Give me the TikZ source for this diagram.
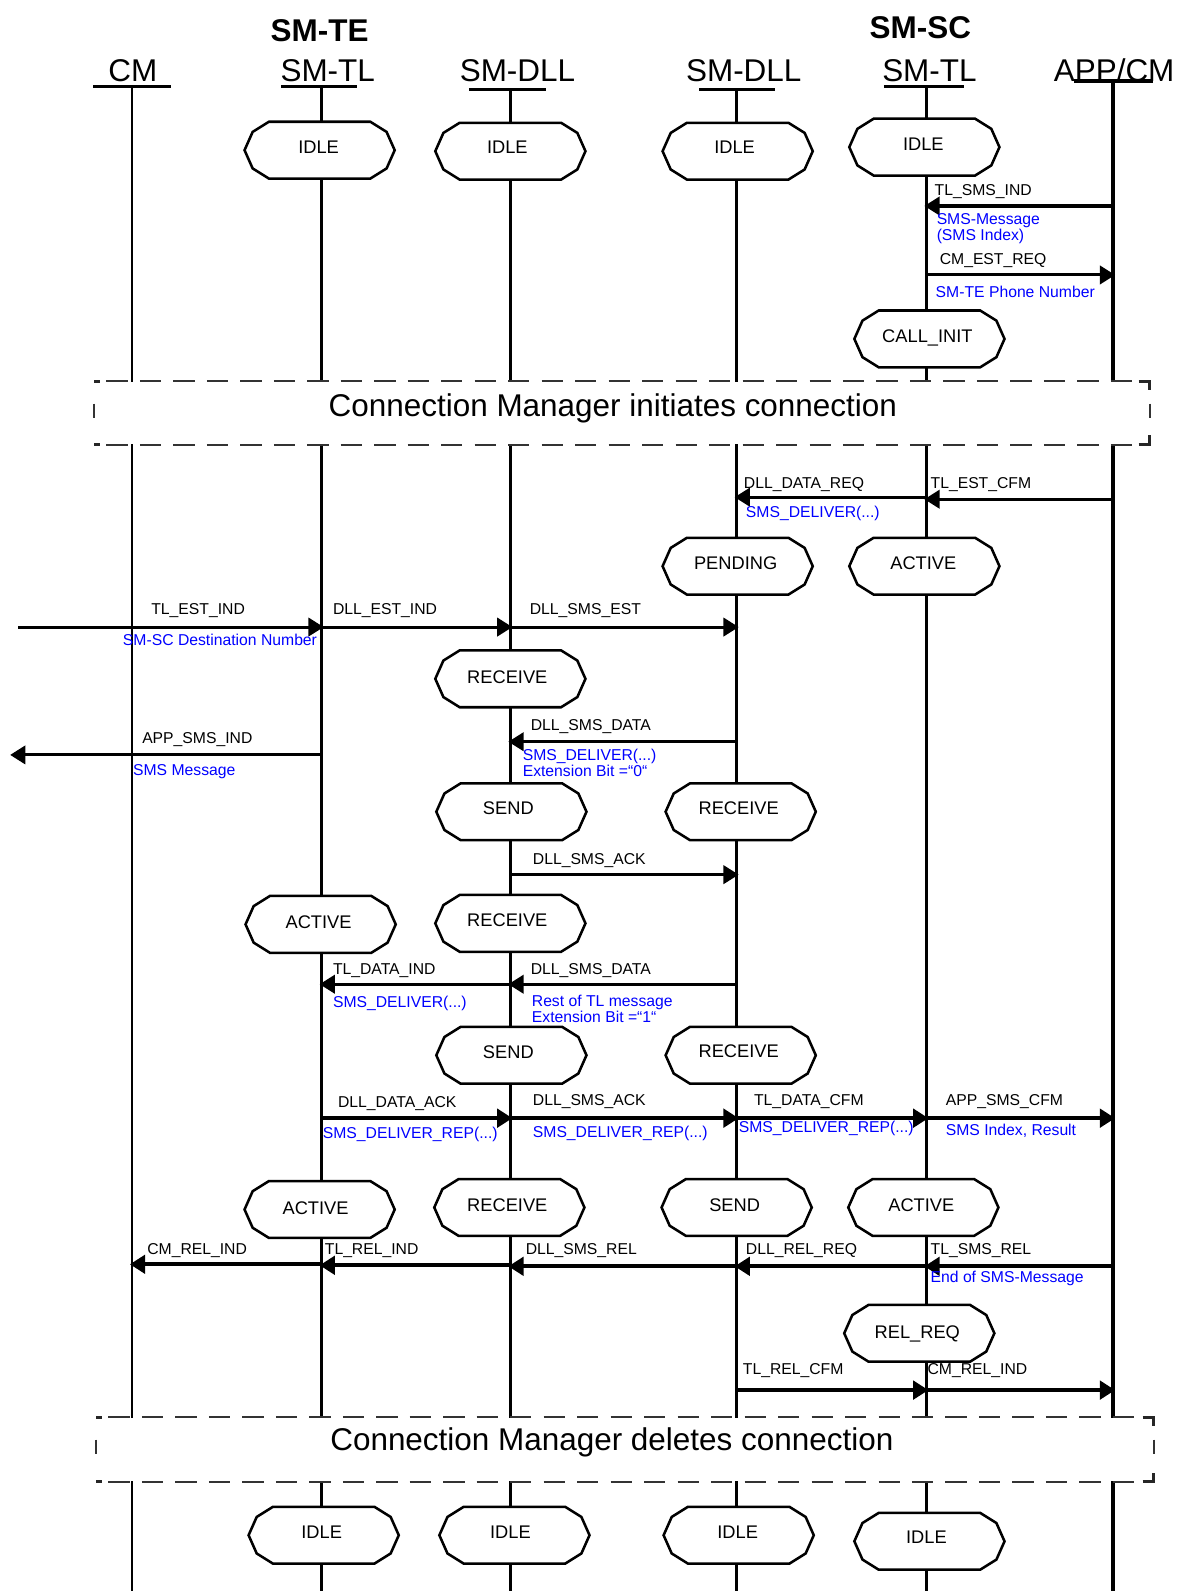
\documentclass[tikz,border=0pt]{standalone}
\usepackage{fontspec}
\setmainfont{Liberation Sans}
\usetikzlibrary{arrows.meta}
\tikzset{
 life/.style={line width=3pt},
 bar/.style={line width=3pt},
 head/.style={font=\fontsize{31}{36}\selectfont, anchor=base, inner sep=0pt},
 grp/.style={font=\bfseries\fontsize{31}{36}\selectfont, anchor=base, inner sep=0pt},
 stline/.style={line width=2.5pt, fill=white, line join=miter},
 sttext/.style={font=\fontsize{18}{21}\selectfont, anchor=base, inner sep=0pt, yshift=-6.5pt},
 msg/.style={line width=3pt, -{Triangle[length=15pt,width=18pt]}, shorten >=-2pt},
 msgb/.style={msg, line width=3.8pt},
 lab/.style={font=\fontsize{15.5}{17}\selectfont, anchor=base west, inner sep=0pt, yshift=-5.5pt},
 blab/.style={lab, text=blue},
 cmbox/.style={draw=none, fill=white, inner sep=0pt},
 cmtext/.style={font=\fontsize{31}{36}\selectfont, anchor=base, inner sep=0pt, yshift=-11pt},
 dashl/.style={line width=1.8pt, black!80, dash pattern=on 21pt off 12pt},
 tick/.style={line width=1.8pt, black!80},
 cornr/.style={line width=3pt, black!85},
}
\newcommand\stbox[6]{%
 \draw[stline, shift={(#2,#3)}] (-50,-28) -- (50,-28) -- (66,-18) -- (74,0) -- (66,18) -- (50,28) -- (-50,28) -- (-66,18) -- (-74,0) -- (-66,-18) -- cycle;
 \node[sttext] (#1) at (#4,#5) {#6};}
\newcommand\mlab[4]{\node[#1] (#2) at (#3) {#4};}
\newcommand\dbox[2]{%
 \draw[dashl] ([xshift=12pt]#1.north west) -- ([xshift=-14pt]#1.north east);
 \draw[dashl] ([xshift=12pt]#1.south west) -- ([xshift=-14pt]#1.south east);
 \draw[cornr] (#1.north west) -- ++(6,0);
 \draw[cornr] (#1.south west) -- ++(6,0);
 \draw[cornr] ([xshift=-11pt]#1.north east) -- (#1.north east) -- ++(0,9);
 \draw[cornr] ([xshift=-11pt]#1.south east) -- (#1.south east) -- ++(0,-9);
 \draw[tick] ([yshift=-22pt]#1.north west) -- ++(0,14);
 \draw[tick] ([yshift=-22pt]#1.north east) -- ++(0,14);}
\begin{document}
\begin{tikzpicture}[x=1pt,y=-1pt]
\useasboundingbox (0,0) rectangle (1159,1568);
% lifeline ends
\coordinate (tCM) at (130,85);   \coordinate (bCM) at (130,1568);
\coordinate (tTL1) at (317,85);  \coordinate (bTL1) at (317,1568);
\coordinate (tDLL1) at (503,88); \coordinate (bDLL1) at (503,1568);
\coordinate (tDLL2) at (726,88); \coordinate (bDLL2) at (726,1568);
\coordinate (tTL2) at (913,85);  \coordinate (bTL2) at (913,1568);
\coordinate (tAPP) at (1097,80); \coordinate (bAPP) at (1097,1568);
\coordinate (xL1) at (18,618);
\coordinate (xL2) at (12,744);
% headers
\node[grp] (gTE) at (315,41) {SM-TE};
\node[grp] (gSC) at (907,38) {SM-SC};
\node[head] (hCM) at (131,80) {CM};
\node[head] (hTL1) at (323,80) {SM-TL};
\node[head] (hDLL1) at (510,80) {SM-DLL};
\node[head] (hDLL2) at (733,80) {SM-DLL};
\node[head] (hTL2) at (916,80) {SM-TL};
\node[head] (hAPP) at (1098,80) {APP/CM};
\draw[bar] (92,85) -- (169,85);
\draw[bar] (277,85) -- (352,85);
\draw[bar, line width=3.5pt] (462,88) -- (538,88);
\draw[bar, line width=3.5pt] (689,88) -- (764,88);
\draw[bar] (871,85) -- (950,85);
\draw[bar, line width=3.5pt] (1058,80) -- (1136,80);
% lifelines
\draw[life, line width=2.5pt] (tCM) -- (bCM);
\draw[life] (tTL1) -- (bTL1);
\draw[life] (tDLL1) -- (bDLL1);
\draw[life] (tDLL2) -- (bDLL2);
\draw[life] (tTL2) -- (bTL2);
\draw[life, line width=3.5pt] (tAPP) -- (bAPP);
% states
\stbox{s1}{315}{148}{314}{145}{IDLE}
\stbox{s2}{503}{149}{500}{145}{IDLE}
\stbox{s3}{727}{149}{724}{145}{IDLE}
\stbox{s4}{911}{145}{910}{142}{IDLE}
\stbox{s5}{916}{334}{914}{331}{CALL\_INIT}
\stbox{s6}{727}{558}{725}{555}{PENDING}
\stbox{s7}{911}{558}{910}{555}{ACTIVE}
\stbox{s8}{503}{669}{500}{667}{RECEIVE}
\stbox{s9}{504}{800}{501}{796}{SEND}
\stbox{s10}{730}{800}{728}{796}{RECEIVE}
\stbox{s11}{316}{911}{314}{909}{ACTIVE}
\stbox{s12}{503}{910}{500}{907}{RECEIVE}
\stbox{s13}{504}{1040}{501}{1037}{SEND}
\stbox{s14}{730}{1040}{728}{1036}{RECEIVE}
\stbox{s15}{315}{1192}{311}{1190}{ACTIVE}
\stbox{s16}{502}{1190}{500}{1187}{RECEIVE}
\stbox{s17}{726}{1190}{724}{1187}{SEND}
\stbox{s18}{910}{1190}{908}{1187}{ACTIVE}
\stbox{s19}{906}{1314}{904}{1313}{REL\_REQ}
\stbox{s20}{319}{1513}{317}{1510}{IDLE}
\stbox{s21}{507}{1513}{503}{1510}{IDLE}
\stbox{s22}{728}{1513}{727}{1510}{IDLE}
\stbox{s23}{916}{1519}{913}{1515}{IDLE}
% connection manager boxes
\node[cmbox, minimum width=1040pt, minimum height=62pt] (box1) at (613,407) {};
\dbox{box1}{}
\node[cmtext] (cm1) at (604,399) {Connection Manager initiates connection};
\node[cmbox, minimum width=1042pt, minimum height=63pt] (box2) at (616,1428.5) {};
\dbox{box2}{}
\node[cmtext] (cm2) at (603,1419) {Connection Manager deletes connection};
% messages
\draw[msg] (tAPP |- 0,203) -- (tTL2 |- 0,203);
\mlab{lab}{m1}{921,187}{TL\_SMS\_IND}
\mlab{blab}{m1a}{923,216}{SMS-Message}
\mlab{blab}{m1b}{923,232}{(SMS Index)}
\draw[msg] (tTL2 |- 0,271) -- (tAPP |- 0,271);
\mlab{lab}{m2}{926,255}{CM\_EST\_REQ}
\mlab{blab}{m2a}{922,288}{SM-TE Phone Number}
\draw[msg] (tAPP |- 0,492) -- (tTL2 |- 0,492);
\mlab{lab}{m3}{917,476}{TL\_EST\_CFM}
\draw[msg] (tTL2 |- 0,490) -- (tDLL2 |- 0,490);
\mlab{lab}{m4}{733,476}{DLL\_DATA\_REQ}
\mlab{blab}{m4a}{735,505}{SMS\_DELIVER(...)}
\draw[msg] (xL1) -- (tTL1 |- xL1);
\mlab{lab}{m5}{149,600}{TL\_EST\_IND}
\mlab{blab}{m5a}{121,631}{SM-SC Destination Number}
\draw[msg] (tTL1 |- xL1) -- (tDLL1 |- xL1);
\mlab{lab}{m6}{328,600}{DLL\_EST\_IND}
\draw[msg] (tDLL1 |- xL1) -- (tDLL2 |- xL1);
\mlab{lab}{m7}{522,600}{DLL\_SMS\_EST}
\draw[msg] (tDLL2 |- 0,731) -- (tDLL1 |- 0,731);
\mlab{lab}{m8}{523,714}{DLL\_SMS\_DATA}
\mlab{blab}{m8a}{515,744}{SMS\_DELIVER(...)}
\mlab{blab}{m8b}{515,760}{Extension Bit =“0“}
\draw[msg] (tTL1 |- xL2) -- (xL2);
\mlab{lab}{m9}{140,727}{APP\_SMS\_IND}
\mlab{blab}{m9a}{131,759}{SMS Message}
\draw[msg] (tDLL1 |- 0,862) -- (tDLL2 |- 0,862);
\mlab{lab}{m10}{525,846}{DLL\_SMS\_ACK}
\draw[msg] (tDLL2 |- 0,970) -- (tDLL1 |- 0,970);
\mlab{lab}{m11}{523,955}{DLL\_SMS\_DATA}
\mlab{blab}{m11a}{524,986}{Rest of TL message}
\mlab{blab}{m11b}{524,1002}{Extension Bit =“1“}
\draw[msg] (tDLL1 |- 0,970) -- (tTL1 |- 0,970);
\mlab{lab}{m12}{328,955}{TL\_DATA\_IND}
\mlab{blab}{m12a}{328,987}{SMS\_DELIVER(...)}
\draw[msgb] (tTL1 |- 0,1102) -- (tDLL1 |- 0,1102);
\mlab{lab}{m13}{333,1086}{DLL\_DATA\_ACK}
\mlab{blab}{m13a}{318,1117}{SMS\_DELIVER\_REP(...)}
\draw[msgb] (tDLL1 |- 0,1102) -- (tDLL2 |- 0,1102);
\mlab{lab}{m14}{525,1084}{DLL\_SMS\_ACK}
\mlab{blab}{m14a}{525,1116}{SMS\_DELIVER\_REP(...)}
\draw[msgb] (tDLL2 |- 0,1102) -- (tTL2 |- 0,1102);
\mlab{lab}{m15}{743,1084}{TL\_DATA\_CFM}
\mlab{blab}{m15a}{728,1111}{SMS\_DELIVER\_REP(...)}
\draw[msgb] (tTL2 |- 0,1102) -- (tAPP |- 0,1102);
\mlab{lab}{m16}{932,1084}{APP\_SMS\_CFM}
\mlab{blab}{m16a}{932,1114}{SMS Index, Result}
\draw[msgb] (tTL1 |- 0,1246) -- (tCM |- 0,1246);
\mlab{lab}{m17}{145,1231}{CM\_REL\_IND}
\draw[msgb] (tDLL1 |- 0,1247) -- (tTL1 |- 0,1247);
\mlab{lab}{m18}{320,1231}{TL\_REL\_IND}
\draw[msgb] (tDLL2 |- 0,1248) -- (tDLL1 |- 0,1248);
\mlab{lab}{m19}{518,1231}{DLL\_SMS\_REL}
\draw[msgb] (tTL2 |- 0,1248) -- (tDLL2 |- 0,1248);
\mlab{lab}{m20}{735,1231}{DLL\_REL\_REQ}
\draw[msgb] (tAPP |- 0,1248) -- (tTL2 |- 0,1248);
\mlab{lab}{m21}{917,1231}{TL\_SMS\_REL}
\mlab{blab}{m21a}{917,1258}{End of SMS-Message}
\draw[msgb] (tDLL2 |- 0,1370) -- (tTL2 |- 0,1370);
\mlab{lab}{m22}{732,1349}{TL\_REL\_CFM}
\draw[msgb] (tTL2 |- 0,1370) -- (tAPP |- 0,1370);
\mlab{lab}{m23}{914,1349}{CM\_REL\_IND}
\end{tikzpicture}
\end{document}
